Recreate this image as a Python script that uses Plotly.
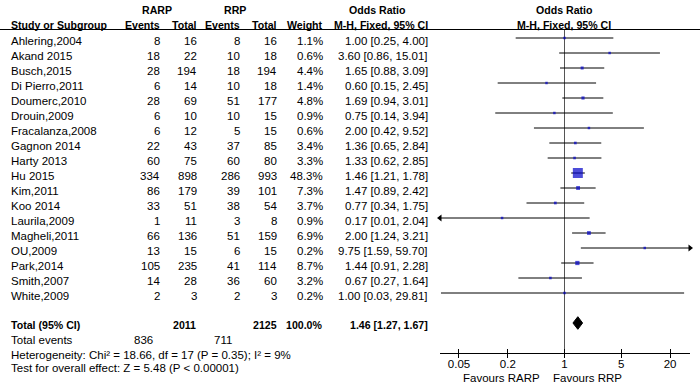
import math
import plotly.graph_objects as go

studies = ["Ahlering,2004", "Akand 2015", "Busch,2015", "Di Pierro,2011", "Doumerc,2010",
           "Drouin,2009", "Fracalanza,2008", "Gagnon 2014", "Harty 2013", "Hu 2015",
           "Kim,2011", "Koo 2014", "Laurila,2009", "Magheli,2011", "OU,2009",
           "Park,2014", "Smith,2007", "White,2009"]
rarp_events = [8, 18, 28, 6, 28, 6, 6, 22, 60, 334, 86, 33, 1, 66, 13, 105, 14, 2]
rarp_total = [16, 22, 194, 14, 69, 10, 12, 43, 75, 898, 179, 51, 11, 136, 15, 235, 28, 3]
rrp_events = [8, 10, 18, 10, 51, 10, 5, 37, 60, 286, 39, 38, 3, 51, 6, 41, 36, 2]
rrp_total = [16, 18, 194, 18, 177, 15, 15, 85, 80, 993, 101, 54, 8, 159, 15, 114, 60, 3]
weight = [1.1, 0.6, 4.4, 1.4, 4.8, 0.9, 0.6, 3.4, 3.3, 48.3, 7.3, 3.7, 0.9, 6.9, 0.2, 8.7, 3.2, 0.2]
or_est = [1.00, 3.60, 1.65, 0.60, 1.69, 0.75, 2.00, 1.36, 1.33, 1.46, 1.47, 0.77, 0.17, 2.00, 9.75, 1.44, 0.67, 1.00]
or_lo = [0.25, 0.86, 0.88, 0.15, 0.94, 0.14, 0.42, 0.65, 0.62, 1.21, 0.89, 0.34, 0.01, 1.24, 1.59, 0.91, 0.27, 0.03]
or_hi = [4.00, 15.01, 3.09, 2.45, 3.01, 3.94, 9.52, 2.84, 2.85, 1.78, 2.42, 1.75, 2.04, 3.21, 59.70, 2.28, 1.64, 29.81]

total_rarp = 2011
total_rrp = 2125
events_rarp = 836
events_rrp = 711
total_weight = "100.0%"
pooled = (1.46, 1.27, 1.67)
tick_vals = [0.05, 0.2, 1, 5, 20]
tick_text = ["0.05", "0.2", "1", "5", "20"]
het_text = "Heterogeneity: Chi\u00b2 = 18.66, df = 17 (P = 0.35); I\u00b2 = 9%"
test_text = "Test for overall effect: Z = 5.48 (P < 0.00001)"

W, H = 700, 386
ROW0, PITCH = 38.0, 15.0
XR = [-1.535, 1.547]
FONT = "Liberation Sans, Arial, sans-serif"
FS = 11.5
FSB = 10.6
AXIS_PX = 353


def row_px(r):
    return ROW0 + PITCH * r


def py(px):
    return 1 - px / H


def px_x(px):
    return px / W


fig = go.Figure()
ann = []


def txt(x_px, y_px, s, anchor="right", bold=False):
    ann.append(dict(x=px_x(x_px), y=py(y_px), xref="paper", yref="paper",
                    text=("<b>%s</b>" % s) if bold else s,
                    showarrow=False, xanchor=anchor, yanchor="middle",
                    font=dict(family=FONT, size=FSB if bold else FS, color="black")))


# headers
txt(157, 10, "RARP", "center", True)
txt(235, 10, "RRP", "center", True)
txt(377, 10, "Odds Ratio", "center", True)
txt(564, 10, "Odds Ratio", "center", True)
txt(9, 25, "Study or Subgroup", "left", True)
txt(162, 25, "Events", "right", True)
txt(199, 25, "Total", "right", True)
txt(242, 25, "Events", "right", True)
txt(279, 25, "Total", "right", True)
txt(325, 25, "Weight", "right", True)
txt(430, 25, "M-H, Fixed, 95% CI", "right", True)
txt(564, 25, "M-H, Fixed, 95% CI", "center", True)

for i, s in enumerate(studies):
    y = row_px(i) + 3
    txt(9, y, s, "left")
    txt(162, y, str(rarp_events[i]))
    txt(199, y, str(rarp_total[i]))
    txt(242, y, str(rrp_events[i]))
    txt(279, y, str(rrp_total[i]))
    txt(325, y, "%.1f%%" % weight[i])
    txt(430, y, "%.2f [%.2f, %.2f]" % (or_est[i], or_lo[i], or_hi[i]))

n = len(studies)
ty = row_px(n + 1) + 2
txt(9, ty, "Total (95% CI)", "left", True)
txt(198, ty, str(total_rarp), "right", True)
txt(279, ty, str(total_rrp), "right", True)
txt(325, ty, total_weight, "right", True)
txt(430, ty, "%.2f [%.2f, %.2f]" % pooled, "right", True)
ey = row_px(n + 2) + 2
txt(9, ey, "Total events", "left")
txt(155, ey, str(events_rarp), "right")
txt(234, ey, str(events_rrp), "right")
txt(9, row_px(n + 3) + 2, het_text, "left")
txt(9, row_px(n + 4), test_text, "left")
txt(542, 378, "Favours RARP", "right")
txt(551, 378, "Favours RRP", "left")

xmin, xmax = 10 ** XR[0], 10 ** XR[1]

# vertical no-effect line
top_row = (29.5 - ROW0) / PITCH
axis_row = (AXIS_PX - ROW0) / PITCH
fig.add_trace(go.Scatter(x=[1, 1], y=[top_row, axis_row], mode="lines",
                         line=dict(color="#555555", width=1), hoverinfo="skip"))

# CI lines
for i in range(n):
    lo = max(or_lo[i], xmin)
    hi = min(or_hi[i], xmax)
    fig.add_trace(go.Scatter(x=[lo, hi], y=[i, i], mode="lines",
                             line=dict(color="black", width=1), hoverinfo="skip"))
    if or_lo[i] < xmin:
        fig.add_trace(go.Scatter(x=[xmin], y=[i], mode="markers", cliponaxis=False,
                                 marker=dict(symbol="triangle-left", size=6, color="black")))
    if or_hi[i] > xmax:
        fig.add_trace(go.Scatter(x=[xmax], y=[i], mode="markers", cliponaxis=False,
                                 marker=dict(symbol="triangle-right", size=6, color="black")))

sizes = [max(2.5, 10 * math.sqrt(w / 48.3)) for w in weight]
fig.add_trace(go.Scatter(x=or_est, y=list(range(n)), mode="markers",
                         marker=dict(symbol="square", size=sizes, color="#0000c8", line=dict(width=0))))

# pooled diamond
r = n + 1
fig.add_trace(go.Scatter(x=[pooled[1], pooled[0], pooled[2], pooled[0], pooled[1]],
                         y=[r, r - 0.42, r, r + 0.42, r], mode="lines", fill="toself",
                         fillcolor="black", line=dict(color="black", width=1)))

# header rule
fig.add_shape(type="line", xref="paper", yref="paper", x0=0, x1=1, y0=py(29.5), y1=py(29.5),
              line=dict(color="black", width=1))

axis_common = dict(type="log", range=XR, domain=[440 / W, 690 / W], anchor="free",
                   position=py(AXIS_PX), showgrid=False, zeroline=False,
                   showline=True, linecolor="black", linewidth=1,
                   tickvals=tick_vals, ticktext=tick_text, tickcolor="black",
                   ticklen=4, tickwidth=1,
                   tickfont=dict(family=FONT, size=FS, color="black"))

fig.update_layout(
    width=W, height=H, margin=dict(l=0, r=0, t=0, b=0),
    paper_bgcolor="white", plot_bgcolor="white", showlegend=False,
    xaxis=dict(**axis_common, ticks="outside", showticklabels=False),
    xaxis2=dict(**axis_common, ticks="inside", showticklabels=True, overlaying="x"),
    yaxis=dict(range=[(H - ROW0) / PITCH, -ROW0 / PITCH], domain=[0, 1], visible=False),
    annotations=ann,
)
fig.add_trace(go.Scatter(x=[1], y=[0], xaxis="x2", mode="markers", marker=dict(opacity=0),
                         hoverinfo="skip"))

fig.write_html("out.html", config={"displayModeBar": False},
               post_script="document.body.style.margin='0';document.body.style.overflow='hidden';")
